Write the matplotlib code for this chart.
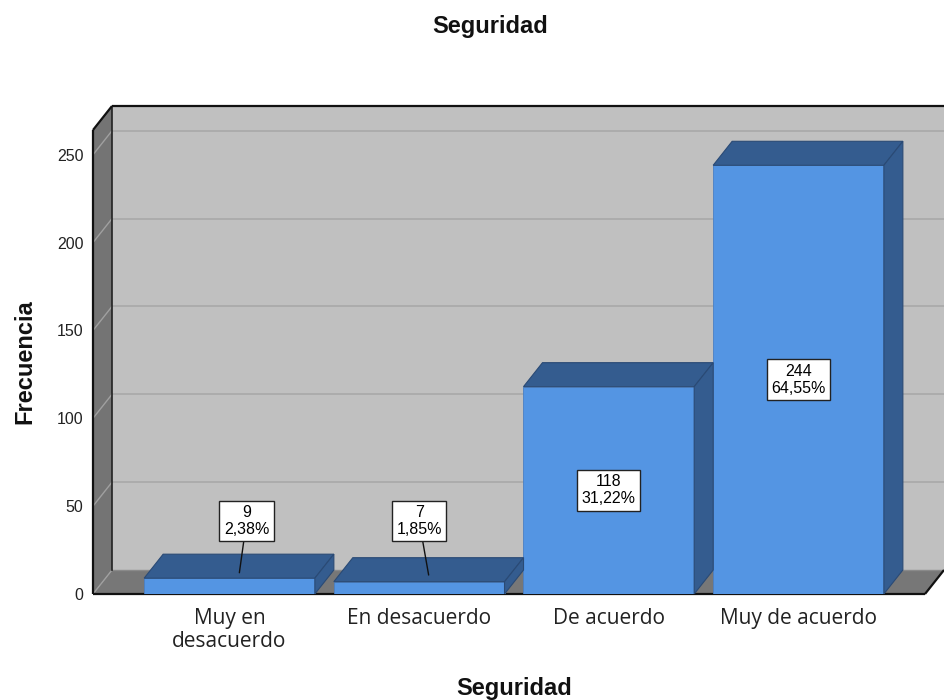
import matplotlib
matplotlib.use('Agg')
import matplotlib.pyplot as plt
from matplotlib.patches import Polygon

# ---- data ----
categories = ['Muy en\ndesacuerdo', 'En desacuerdo', 'De acuerdo', 'Muy de acuerdo']
counts = [9, 7, 118, 244]
percents = ['2,38%', '1,85%', '31,22%', '64,55%']
yticks = [0, 50, 100, 150, 200, 250]

# ---- layout (pixels) ----
W, H = 944, 700
fig = plt.figure(figsize=(W / 100, H / 100), dpi=100)
x0_px, x1_px, y0_px, y1_px = 93, 944, 594, 107
ax = fig.add_axes([x0_px / W, 1 - y0_px / H, (x1_px - x0_px) / W, (y0_px - y1_px) / H])
ppu_x, ppu_y, c0 = 189.67, 1.757, 229.5
xlim = ((x0_px - c0) / ppu_x, (x1_px - c0) / ppu_x)
ylim = (0, (y0_px - y1_px) / ppu_y)
ax.set_xlim(*xlim)
ax.set_ylim(*ylim)

dx = 19 / ppu_x
dy = 24 / ppu_y
xL = xlim[0]
xR = (925 - c0) / ppu_x
yT = (y0_px - 130) / ppu_y

wall_c = '#c0c0c0'
side_c = '#747474'
floor_c = '#777777'
grid_c = '#a9a9a9'
front_c = '#5495e3'
dark_c = '#345c8f'

# back wall
ax.add_patch(Polygon([(xL + dx, dy), (xR + dx, dy), (xR + dx, yT + dy), (xL + dx, yT + dy)],
                     closed=True, facecolor=wall_c, edgecolor='none', zorder=1, clip_on=False))
for v in yticks[1:]:
    ax.plot([xL + dx, xR + dx], [v + dy, v + dy], color=grid_c, lw=1.2, zorder=2)
# left wall
ax.add_patch(Polygon([(xL, 0), (xL, yT), (xL + dx, yT + dy), (xL + dx, dy)],
                     closed=True, facecolor=side_c, edgecolor='none', zorder=3, clip_on=False))
for v in yticks[1:]:
    ax.plot([xL, xL + dx], [v, v + dy], color='#a0a0a0', lw=1.0, zorder=4)
# floor
ax.add_patch(Polygon([(xL, 0), (xR, 0), (xR + dx, dy), (xL + dx, dy)],
                     closed=True, facecolor=floor_c, edgecolor='none', zorder=3, clip_on=False))
ax.plot([xL, xL + dx], [0, dy], color='#a0a0a0', lw=1.0, zorder=4)
ax.plot([xL + dx, xR + dx], [dy, dy], color='#8a8a8a', lw=1.0, zorder=4)
# outlines
k = dict(color='#111111', lw=1.6, zorder=5, clip_on=False, solid_capstyle='butt')
ax.plot([xL + dx, xR + dx + 0.05], [yT + dy, yT + dy], **k)
ax.plot([xL + dx, xL + dx], [dy, yT + dy], color='#222222', lw=1.2, zorder=5)
ax.plot([xL, xL], [0, yT], **k)
ax.plot([xL, xL + dx], [yT, yT + dy], **k)
ax.plot([xL, xR], [0, 0], **k)
ax.plot([xR, xR + dx], [0, dy], **k)

# bars
bw = 0.9
pos = list(range(len(categories)))
ax.bar(pos, counts, width=bw, color=front_c, edgecolor='#4a80c4', linewidth=0.6, zorder=6)
for i, v in zip(pos, counts):
    l, r = i - bw / 2, i + bw / 2
    ax.add_patch(Polygon([(l, v), (r, v), (r + dx, v + dy), (l + dx, v + dy)], closed=True,
                         facecolor=dark_c, edgecolor='#2a4a75', lw=0.8, zorder=6))
    ax.add_patch(Polygon([(r, 0), (r + dx, dy), (r + dx, v + dy), (r, v)], closed=True,
                         facecolor=dark_c, edgecolor='#2a4a75', lw=0.8, zorder=6))

# value labels
box = dict(boxstyle='square,pad=0.28', facecolor='white', edgecolor='#222222', lw=1.0)
label_font = dict(family='Liberation Sans', size=11.5, linespacing=1.15)
ext_text_x = [0.09, 0.0]
ext_tip = [(0.052, 12.1), (0.05, 10.8)]
ext_y = 41.5
for i, (v, p) in enumerate(zip(counts, percents)):
    txt = f'{v}\n{p}'
    if v < 40:
        ax.annotate(txt, xy=(i + ext_tip[i][0], ext_tip[i][1]), xytext=(i + ext_text_x[i], ext_y),
                    ha='center', va='center', bbox=box, zorder=10, **label_font,
                    arrowprops=dict(arrowstyle='-', color='#111111', lw=1.0, shrinkA=0, shrinkB=0))
    else:
        ax.text(i, v / 2, txt, ha='center', va='center', bbox=box, zorder=10, **label_font)

# axes ticks
for s in ax.spines.values():
    s.set_visible(False)
ax.set_yticks(yticks)
ax.set_yticklabels([str(t) for t in yticks], family='Liberation Sans', fontsize=11.5, color='#222222')
ax.set_xticks(pos)
ax.set_xticklabels(categories, family='Open Sans', fontsize=15, color='#222222', linespacing=1.12)
ax.tick_params(axis='y', length=0, pad=7)
ax.tick_params(axis='x', length=0, pad=10)

# titles
fig.text(490 / W, 1 - 27 / H, 'Seguridad', ha='center', va='center',
         family='Liberation Sans', weight='bold', fontsize=17, color='#111111')
fig.text(514 / W, 1 - 688 / H, 'Seguridad', ha='center', va='center',
         family='Liberation Sans', weight='bold', fontsize=17, color='#111111')
fig.text(25 / W, 1 - 362 / H, 'Frecuencia', ha='center', va='center', rotation=90,
         family='Liberation Sans', weight='bold', fontsize=17, color='#111111')

fig.savefig('out.png', dpi=100, facecolor='white')
